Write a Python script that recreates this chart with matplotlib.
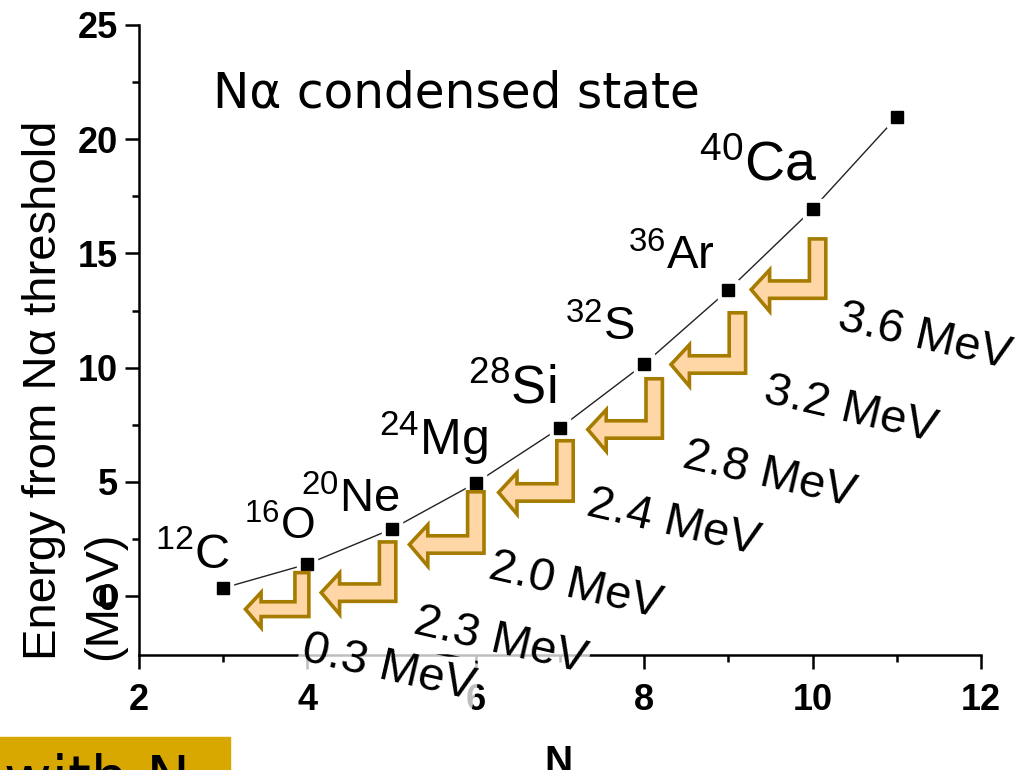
import matplotlib
matplotlib.use('Agg')
import matplotlib.pyplot as plt
import matplotlib.patches as mpatches
import matplotlib.transforms as mtransforms
from matplotlib.path import Path

# ---- Data ----
n_alpha = [3, 4, 5, 6, 7, 8, 9, 10, 11]
energy = [0.35, 1.40, 2.93, 4.95, 7.36, 10.16, 13.40, 16.94, 20.97]
nuclei = ['$^{12}$C', '$^{16}$O', '$^{20}$Ne', '$^{24}$Mg', '$^{28}$Si',
          '$^{32}$S', '$^{36}$Ar', '$^{40}$Ca']
steps = ['0.3 MeV', '2.3 MeV', '2.0 MeV', '2.4 MeV', '2.8 MeV', '3.2 MeV', '3.6 MeV']

# ---- Layout of the annotations ----
nucleus_xy = [(3.08, 1.23), (4.09, 2.45), (5.10, 3.68), (6.14, 6.17),
              (6.96, 8.45), (7.89, 11.21), (8.84, 14.32), (10.05, 18.21)]
nucleus_size = [35, 32, 34, 36, 38, 34, 34, 40]
step_xy = [(3.91, -2.80), (5.24, -1.62), (6.13, 0.79), (7.30, 3.55),
           (8.44, 5.65), (9.40, 8.49), (10.28, 11.69)]
# arrow anchor (bottom-right corner) offset from its point, in pixels
arrow_dx = [3, 6, 10, 15, 20, 19, 15]
arrow_dy = [54, 74, 72, 75, 76, 85, 91]
arrow_h = [47, 63, 65, 64, 63, 64, 63]
arrow_scale = [0.85, 1, 1, 1, 1, 1, 1]

ARROW_FACE = '#FFD6A6'
ARROW_EDGE = '#A67C00'
GOLD = '#D8A800'

plt.rcParams['font.family'] = ['Liberation Sans', 'DejaVu Sans']
plt.rcParams['mathtext.fontset'] = 'custom'
plt.rcParams['mathtext.rm'] = 'Liberation Sans'
plt.rcParams['mathtext.it'] = 'Liberation Sans:italic'
tick_font = ['Liberation Sans Narrow', 'Liberation Sans', 'DejaVu Sans']
hand_font = ['DejaVu Sans']


def bent_arrow(h, w=20, s=21, length=80, head=22, up=11, down=13, e=1.8):
    '''L-shaped arrow: bar going down, then pointing left. (0,0) is the outer bottom-right corner.'''
    verts = [(-e, e), (-e, h - e), (-w + e, h - e), (-w + e, s - e),
             (-length + head, s - e), (-length + head, s + up - e),
             (-length + 2 * e, s / 2), (-length + head, -down + e),
             (-length + head, e), (-e, e)]
    codes = [Path.MOVETO] + [Path.LINETO] * (len(verts) - 2) + [Path.CLOSEPOLY]
    return Path(verts, codes)


fig = plt.figure(figsize=(10.32, 7.7), dpi=100)
ax = fig.add_axes([139 / 1032, 1 - 655 / 770, (981 - 139) / 1032, (655 - 25) / 770])

# curve and points
ax.plot(n_alpha, energy, '-', color='#222222', lw=1.0, zorder=2)
ax.plot(n_alpha, energy, 's', ms=14, color='white', zorder=2.5)
ax.plot(n_alpha, energy, 's', ms=8, color='black', zorder=3)

for label, (x, y), fs in zip(nuclei, nucleus_xy, nucleus_size):
    ax.text(x, y, label, fontsize=fs, ha='right', va='baseline')

# step arrows from N to N-1
for i, txt in enumerate(steps):
    n, e = n_alpha[i + 1], energy[i + 1]
    sc = arrow_scale[i]
    tr = (mtransforms.Affine2D().scale(sc).translate(arrow_dx[i], -arrow_dy[i])
          .scale(fig.dpi / 100)
          + mtransforms.ScaledTranslation(n, e, ax.transData))
    patch = mpatches.PathPatch(bent_arrow(arrow_h[i] / sc), transform=tr,
                               facecolor=ARROW_FACE, edgecolor=ARROW_EDGE,
                               lw=2.6, joinstyle='miter', zorder=5, clip_on=False)
    ax.add_patch(patch)
    sx, sy = step_xy[i]
    ax.text(sx, sy, txt, fontsize=34, rotation=-13, rotation_mode='anchor',
            ha='left', va='baseline', zorder=4,
            bbox=dict(boxstyle='square,pad=0.05', fc='white', ec='none', alpha=0.75))

ax.text(2.88, 21.37, 'N\u03b1 condensed state', fontsize=35, family=hand_font,
        ha='left', va='baseline')

# axes
ax.set_xlim(2, 12)
ax.set_ylim(-2.58, 25)
ax.set_xticks(range(2, 13, 2))
ax.set_xticks(range(3, 12, 2), minor=True)
ax.set_yticks(range(0, 26, 5))
ax.set_yticks([2.5, 7.5, 12.5, 17.5, 22.5], minor=True)
for side in ('top', 'right'):
    ax.spines[side].set_visible(False)
for side in ('left', 'bottom'):
    ax.spines[side].set_linewidth(1.8)
ax.tick_params(which='major', direction='out', length=10, width=1.8)
ax.tick_params(which='minor', direction='out', length=5, width=1.8)
ax.tick_params(axis='x', pad=10)
ax.tick_params(axis='y', pad=5)
for lab in ax.get_xticklabels() + ax.get_yticklabels():
    lab.set_fontfamily(tick_font)
    lab.set_fontweight('bold')
    lab.set_fontsize(26)

# y-axis title, two lines starting from the same bottom edge
fig.text(22 / 1032, 1 - 660 / 770, 'Energy from N\u03b1 threshold', fontsize=34,
         rotation=90, ha='left', va='bottom')
fig.text(82 / 1032, 1 - 660 / 770, '(MeV)', fontsize=34,
         rotation=90, ha='left', va='bottom')
fig.text(558 / 1032, 1 - 745 / 770, 'N', fontsize=28, family=tick_font,
         fontweight='bold', ha='center', va='top')

# strip of the next panel at the bottom-left
fig.patches.append(mpatches.Rectangle((0, 0), 230 / 1032, (770 - 737) / 770,
                                      transform=fig.transFigure, color=GOLD, zorder=0))
fig.text(190 / 1032, 1 - 753 / 770, 'with N', fontsize=42, family=hand_font,
         ha='right', va='top')

fig.savefig('out.png', dpi=100)
